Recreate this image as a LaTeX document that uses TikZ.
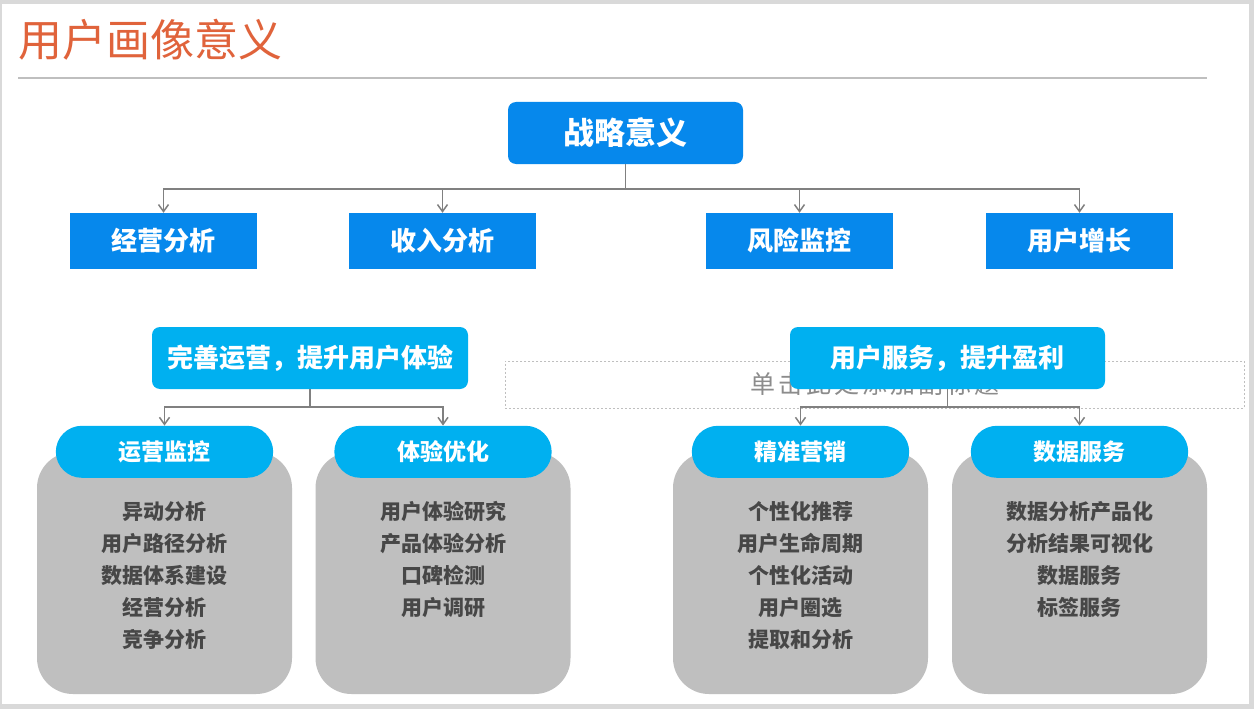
\documentclass[tikz,border=0pt]{standalone}
\usepackage{fontspec}
\newfontfamily\cjk{Noto Sans CJK SC}
\usetikzlibrary{
    positioning,
    arrows.meta,
    shapes.misc
}
\definecolor{titlered}{HTML}{E0633B}
\definecolor{deepblue}{HTML}{0688EC}
\definecolor{skyblue}{HTML}{00B0F0}
\definecolor{boxgray}{HTML}{BFBFBF}
\definecolor{itemgray}{HTML}{474747}
\definecolor{linegray}{HTML}{808080}
\definecolor{rulegray}{HTML}{BFBFBF}
\definecolor{framegray}{HTML}{D9D9D9}
\definecolor{hintgray}{HTML}{8C8C8C}
\newcommand{\fsize}[2]{\fontsize{#1}{#2}\selectfont}

\begin{document}
\begin{tikzpicture}[
    x=1pt, y=-1pt,
    every node/.style={font=\cjk\bfseries},
    topbox/.style={rectangle, rounded corners=8pt, fill=deepblue, text=white, minimum width=235pt, minimum height=62pt, font=\cjk\bfseries\fsize{31}{36}},
    catbox/.style={rectangle, fill=deepblue, text=white, minimum width=187pt, minimum height=56pt, font=\cjk\bfseries\fsize{26}{30}},
    goalbox/.style={rectangle, rounded corners=8pt, fill=skyblue, text=white, minimum width=316pt, minimum height=62pt, font=\cjk\bfseries\fsize{26}{30}},
    pill/.style={rounded rectangle, fill=skyblue, text=white, minimum width=224pt, minimum height=52pt, font=\cjk\bfseries\fsize{23}{27}},
    listbox/.style={rectangle, rounded corners=36pt, fill=boxgray, minimum width=255pt, minimum height=242pt},
    items/.style={text=itemgray, align=center, inner sep=0pt, font=\cjk\bfseries\fsize{21}{32}},
    arrow/.style={-{Straight Barb[length=7pt, width=10pt]}, line width=1.5pt, draw=linegray}
]

% ================= SLIDE =================
\fill[framegray] (0,0) rectangle (1254,709);
\fill[white] (2,4) rectangle (1249,704);

\node[anchor=west, inner sep=0pt, text=titlered, font=\cjk\fsize{44}{50}] (title) at (18,40) {用户画像意义};
\draw[rulegray, line width=1.5pt] (18,78) -- (1207,78);

% placeholder left on the slide
\node[draw=rulegray, dash pattern=on 2pt off 2pt, line width=0.8pt, minimum width=739pt, minimum height=47pt,
      text=hintgray, font=\cjk\fsize{25}{28}\addfontfeatures{LetterSpace=12}] (hint) at (874.5,384.5) {单击此处添加副标题};

% ================= TOP =================
\node[topbox] (strategy) at (625.5,133) {战略意义};

\node[catbox] (biz) at (163.5,241) {经营分析};
\node[catbox] (income) at (442.5,241) {收入分析};
\node[catbox] (risk) at (799.5,241) {风险监控};
\node[catbox] (grow) at (1079.5,241) {用户增长};

% ================= GOALS =================
\node[goalbox] (opgoal) at (310,358) {完善运营，提升用户体验};
\node[goalbox, minimum width=315pt] (svcgoal) at (947.5,358) {用户服务，提升盈利};

% ================= LISTS =================
\node[listbox] (opbox) at (164.5,573) {};
\node[pill] (monitor) at (opbox.north) {运营监控};
\node[items, below=23pt of monitor] (optext) {异动分析\\用户路径分析\\数据体系建设\\经营分析\\竞争分析};

\node[listbox] (uxbox) at (443,573) {};
\node[pill] (uxopt) at (uxbox.north) {体验优化};
\node[items, below=23pt of uxopt] (uxtext) {用户体验研究\\产品体验分析\\口碑检测\\用户调研};

\node[listbox] (mktbox) at (800.5,573) {};
\node[pill] (market) at (mktbox.north) {精准营销};
\node[items, below=23pt of market] (mkttext) {个性化推荐\\用户生命周期\\个性化活动\\用户圈选\\提取和分析};

\node[listbox] (databox) at (1079.5,573) {};
\node[pill] (datasvc) at (databox.north) {数据服务};
\node[items, below=23pt of datasvc] (datatext) {数据分析产品化\\分析结果可视化\\数据服务\\标签服务};

% ================= ARROWS =================
\draw[arrow] (strategy.south) -- ++(0,25) -| (biz.north);
\draw[arrow] (strategy.south) -- ++(0,25) -| (income.north);
\draw[arrow] (strategy.south) -- ++(0,25) -| (risk.north);
\draw[arrow] (strategy.south) -- ++(0,25) -| (grow.north);

\draw[arrow] (opgoal.south) -- ++(0,18) -| (monitor.north);
\draw[arrow] (opgoal.south) -- ++(0,18) -| (uxopt.north);

\draw[arrow] (svcgoal.south) -- ++(0,18) -| (market.north);
\draw[arrow] (svcgoal.south) -- ++(0,18) -| (datasvc.north);

\end{tikzpicture}
\end{document}
